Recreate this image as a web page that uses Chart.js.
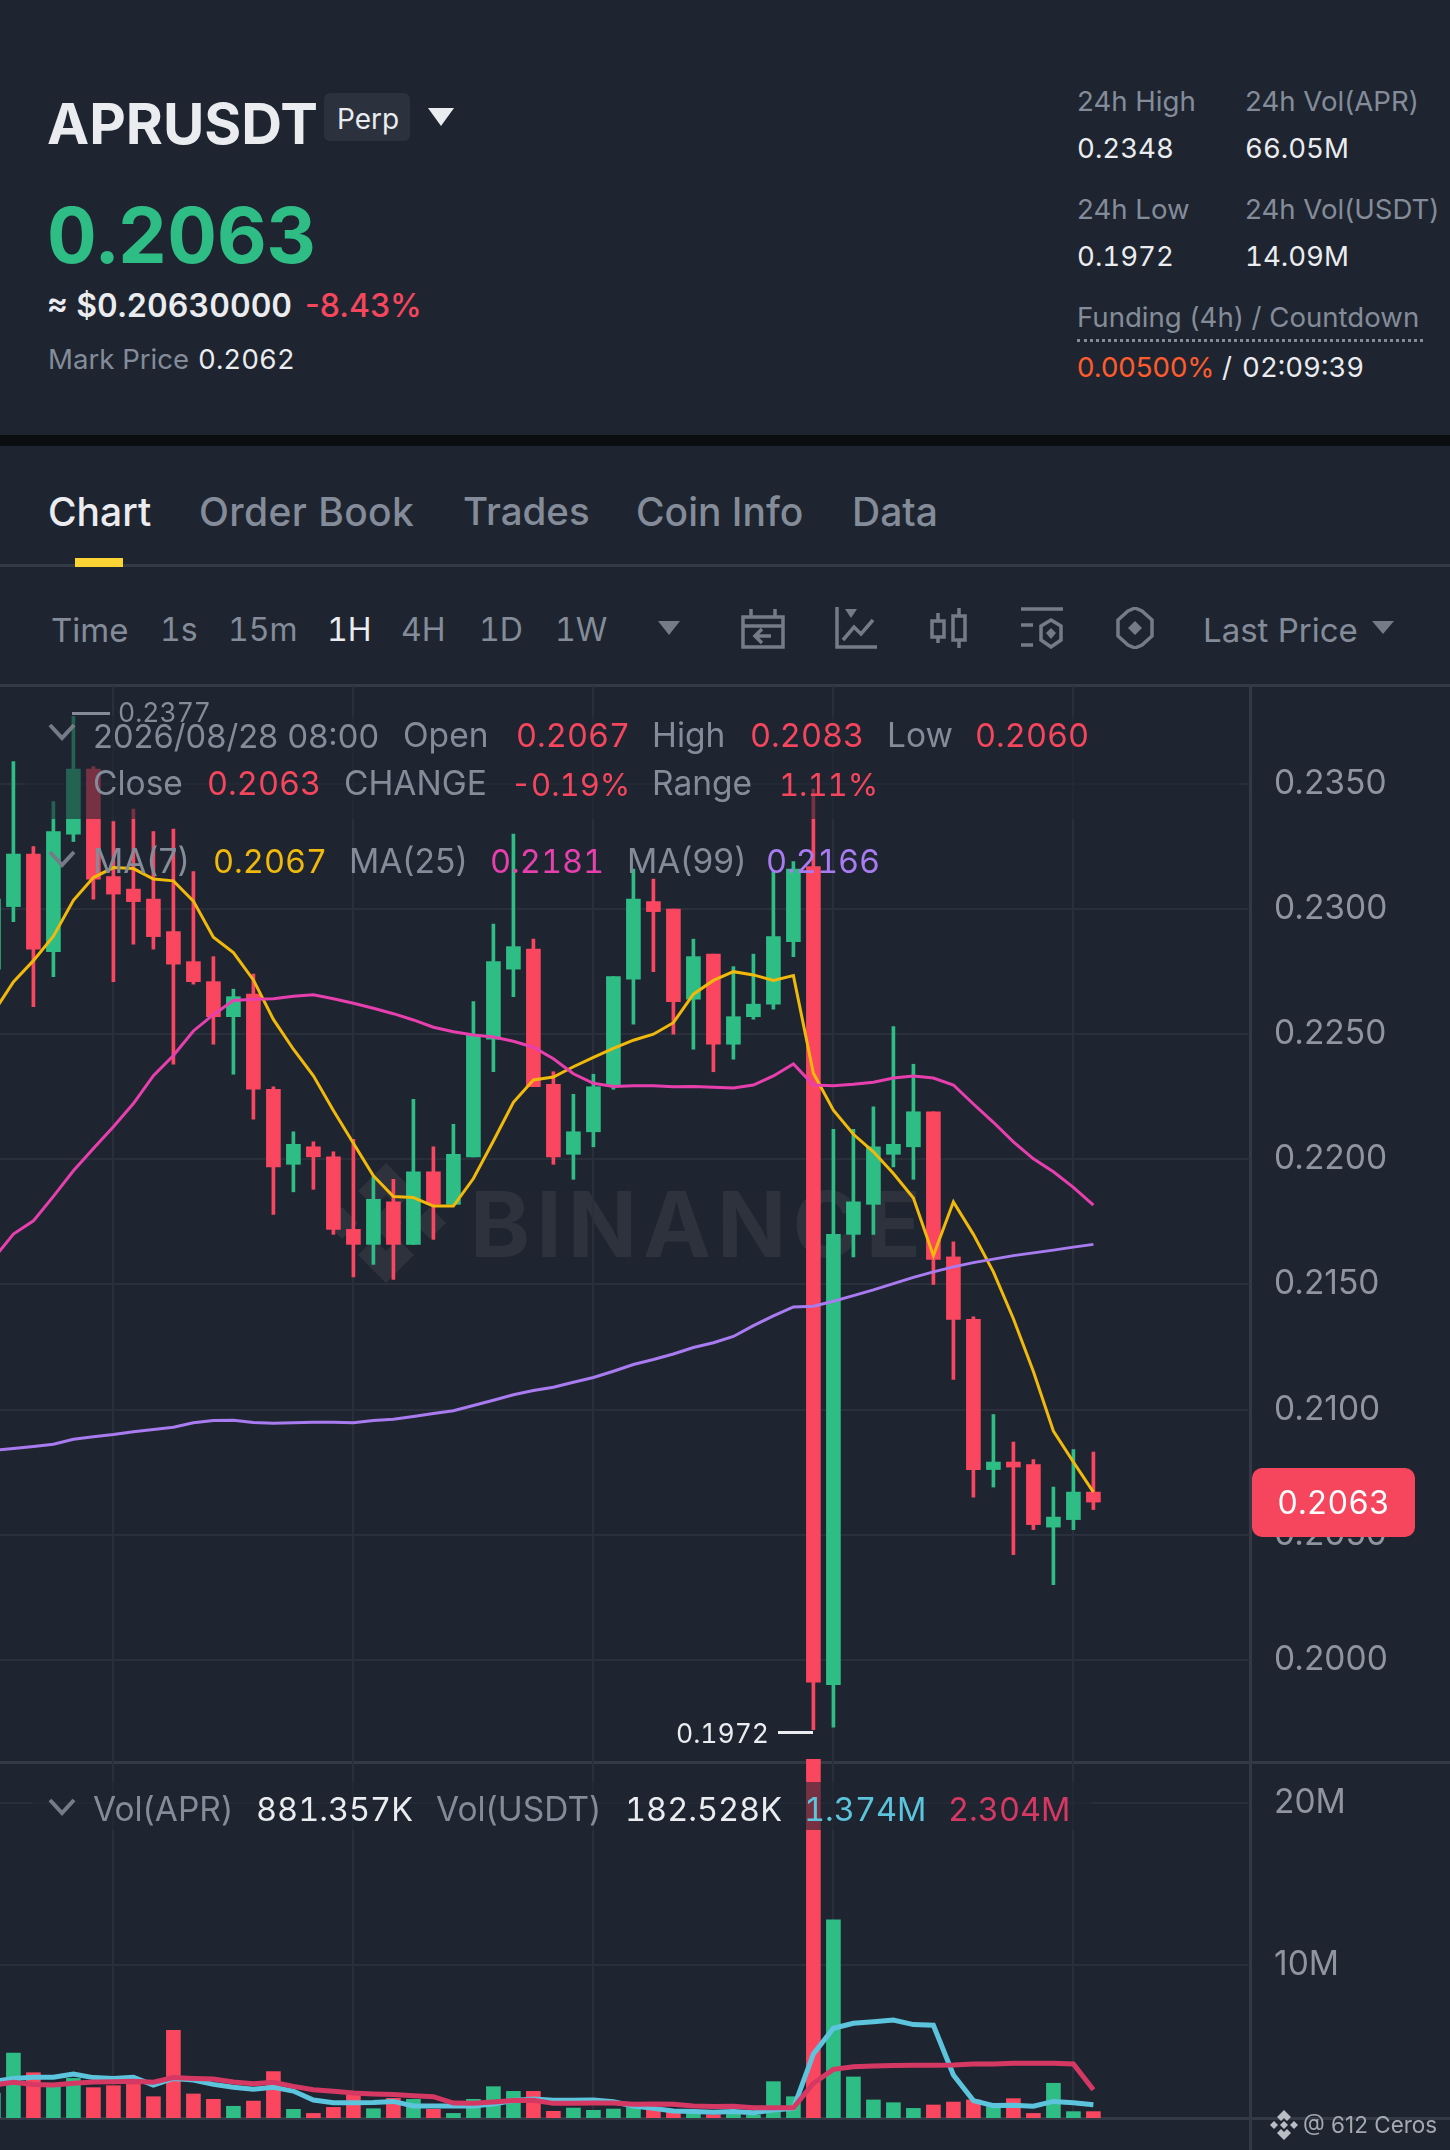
<!DOCTYPE html>
<html>
<head>
<meta charset="utf-8">
<script src="https://cdn.jsdelivr.net/npm/chart.js@4/dist/chart.umd.min.js"></script>
<style>
    html, body { margin: 0; padding: 0; background: #1e2530; }
    #page { position: relative; width: 1450px; height: 2150px; overflow: hidden; background: #1e2530; font-family: Inter, sans-serif; color: #848c99; }
    #page > * { position: absolute; }
    .t { white-space: nowrap; line-height: 1; transform: translateY(-50%); }
    .n { font-variant-numeric: tabular-nums; }
    .s { font-size: 27.6px; }
    .tab { font-size: 39px; font-weight: 500; }
    .tb { font-size: 33px; }
    .tn { font-size: 32px; font-variant-numeric: tabular-nums; }
    .lg { font-size: 33.5px; color: #848c99; }
    .v { font-size: 32.5px; font-variant-numeric: tabular-nums; }
    .w { color: #eaecef; }
    .r { color: #f6465d; }
    .g { color: #2ebd85; }
    .rule { background: #333a46; }
    canvas { display: block; }
    svg { fill: none; stroke: #757c88; stroke-width: 3.5; }
</style>
</head>
<body>
<div id="page">
    <!-- header -->
    <div class="t w" style="left:47px;top:124px;font-size:56.5px;font-weight:700">APRUSDT</div>
    <div style="left:324px;top:93px;width:86px;height:48px;border-radius:6px;background:#2b323e"></div>
    <div class="t w" style="left:337px;top:119px;font-size:28px">Perp</div>
    <svg style="left:428px;top:108px;stroke:none;fill:#eaecef" width="26" height="18"><path d="M0 0H26L13 18Z"/></svg>
    <div class="t g n" style="left:47px;top:235px;font-size:77px;font-weight:700">0.2063</div>
    <div class="t w n" style="left:47px;top:306px;font-size:32px;font-weight:600">≈ $0.20630000</div>
    <div class="t r" style="left:305px;top:306px;font-size:32px;font-weight:500">-8.43%</div>
    <div class="t s" style="left:48px;top:360px">Mark Price</div>
    <div class="t s w n" style="left:198px;top:360px">0.2062</div>
    <div class="t s" style="left:1077px;top:102px">24h High</div>
    <div class="t s" style="left:1245px;top:102px">24h Vol(APR)</div>
    <div class="t s w n" style="left:1077px;top:149px">0.2348</div>
    <div class="t s w n" style="left:1245px;top:149px">66.05M</div>
    <div class="t s" style="left:1077px;top:210px">24h Low</div>
    <div class="t s" style="left:1245px;top:210px">24h Vol(USDT)</div>
    <div class="t s w n" style="left:1077px;top:257px">0.1972</div>
    <div class="t s w n" style="left:1245px;top:257px">14.09M</div>
    <div class="t s" style="left:1077px;top:318px">Funding (4h) / Countdown</div>
    <div style="left:1077px;top:339px;width:346px;border-top:3px dotted #848c99"></div>
    <div class="t" style="left:1077px;top:368px;font-size:27.6px;color:#ff5c2e">0.00500%</div>
    <div class="t s w" style="left:1222px;top:368px">/</div>
    <div class="t s w n" style="left:1242px;top:368px">02:09:39</div>
    <div style="left:0;top:435px;width:1450px;height:11px;background:#0b0e11"></div>

    <!-- tabs -->
    <div class="t tab w" style="left:48px;top:511px">Chart</div>
    <div class="t tab" style="left:199px;top:511px;letter-spacing:.4px">Order Book</div>
    <div class="t tab" style="left:463px;top:511px;font-size:38.5px">Trades</div>
    <div class="t tab" style="left:636px;top:511px">Coin Info</div>
    <div class="t tab" style="left:852px;top:511px">Data</div>
    <div class="rule" style="left:0;top:564px;width:1450px;height:3px"></div>
    <div style="left:75px;top:558px;width:48px;height:9px;background:#fcd535"></div>

    <!-- toolbar -->
    <div class="t tb" style="left:51px;top:630px">Time</div>
    <div class="t tn" style="left:160px;top:630px">1s</div>
    <div class="t tn" style="left:228px;top:630px">15m</div>
    <div class="t tn w" style="left:327px;top:630px">1H</div>
    <div class="t tn" style="left:401px;top:630px">4H</div>
    <div class="t tn" style="left:479px;top:630px">1D</div>
    <div class="t tn" style="left:555px;top:630px">1W</div>
    <svg style="left:658px;top:621px;stroke:none;fill:#757c88" width="22" height="14"><path d="M0 0H22L11 14Z"/></svg>
    <svg style="left:741px;top:607px" width="44" height="42"><path d="M2 10H42V40H2ZM2 19H42M10 2V10M34 2V10M30 29H14M21 22L14 29L21 36"/></svg>
    <svg style="left:835px;top:607px" width="42" height="42"><path d="M2 0V40H42M8 33L19 20L26 27L38 13"/><path d="M10 2H22L16 11Z" style="fill:#757c88;stroke:none"/></svg>
    <svg style="left:930px;top:607px" width="37" height="42"><path d="M2 14H14V30H2ZM8 6V14M8 30V36M23 9H35V33H23ZM29 1V9M29 33V41"/></svg>
    <svg style="left:1021px;top:607px" width="42" height="42"><path d="M0 2H42M0 18H12M0 38H12M30 13L40 19V33L30 40L20 33V19Z"/><path d="M30 21L35 26L30 32L25 26Z" style="fill:#757c88;stroke:none"/></svg>
    <svg style="left:1116px;top:607px" width="38" height="42"><path d="M12 4L19 1L26 4L36 13V29L26 38L19 41L12 38L2 29V13Z"/><path d="M19 14L26 21L19 28L12 21Z" style="fill:#757c88;stroke:none"/></svg>
    <div class="t tb" style="left:1203px;top:630px">Last Price</div>
    <svg style="left:1372px;top:621px;stroke:none;fill:#757c88" width="22" height="13"><path d="M0 0H22L11 13Z"/></svg>

    <!-- pane rules and watermark, below the charts -->
    <div class="rule" style="left:0;top:684px;width:1450px;height:3px"></div>
    <div class="rule" style="left:0;top:1761px;width:1450px;height:3px"></div>
    <div class="rule" style="left:0;top:2117px;width:1450px;height:3px"></div>
    <div class="rule" style="left:1249px;top:686px;width:3px;height:1464px"></div>
    <svg style="left:326px;top:1163px;stroke:none;fill:#2d323c" width="120" height="120"><path d="M60 0L88 28L72 44L60 32L48 44L32 28ZM16 44L32 60L16 76L0 60ZM60 44L76 60L60 76L44 60ZM104 44L120 60L104 76L88 60ZM48 76L60 88L72 76L88 92L60 120L32 92Z"/></svg>
    <div class="t" style="left:470px;top:1224px;font-size:91px;font-weight:700;color:#2d323c;letter-spacing:6px">BINANCE</div>

    <!-- charts -->
    <canvas id="priceChart" width="1450" height="1076" style="left:0;top:686px"></canvas>
    <canvas id="volChart" width="1450" height="363" style="left:0;top:1755px"></canvas>

    <!-- legends sit on a see-through strip over the candles -->
    <div style="left:24px;top:716px;width:1216px;height:103px;background:rgba(30,37,48,.6)"></div>
    <div style="left:32px;top:1782px;width:1060px;height:48px;background:rgba(30,37,48,.6)"></div>

    <div style="left:72px;top:712px;width:38px;height:3px;background:#848c99"></div>
    <div class="t n" style="left:118px;top:712px;font-size:26.5px">0.2377</div>
    <div class="t w n" style="left:676px;top:1733px;font-size:26.5px">0.1972</div>
    <div style="left:778px;top:1731px;width:35px;height:3px;background:#eaecef"></div>

    <svg style="left:48px;top:722px;stroke-width:4" width="30" height="20"><path d="M2 3L14 16L26 3"/></svg>
    <div class="t lg" style="left:93px;top:736px;font-size:32.7px">2026/08/28 08:00</div>
    <div class="t lg" style="left:403px;top:736px">Open</div>
    <div class="t v r" style="left:516px;top:736px">0.2067</div>
    <div class="t lg" style="left:652px;top:736px">High</div>
    <div class="t v r" style="left:750px;top:736px">0.2083</div>
    <div class="t lg" style="left:887px;top:736px">Low</div>
    <div class="t v r" style="left:975px;top:736px">0.2060</div>
    <div class="t lg" style="left:93px;top:784px">Close</div>
    <div class="t v r" style="left:207px;top:784px">0.2063</div>
    <div class="t lg" style="left:344px;top:784px">CHANGE</div>
    <div class="t v r" style="left:511px;top:784px;font-size:31px">-0.19%</div>
    <div class="t lg" style="left:652px;top:784px">Range</div>
    <div class="t v r" style="left:779px;top:784px;font-size:31px">1.11%</div>
    <svg style="left:48px;top:849px;stroke-width:4" width="30" height="20"><path d="M2 3L14 16L26 3"/></svg>
    <div class="t lg" style="left:93px;top:862px">MA(7)</div>
    <div class="t v" style="left:213px;top:862px;color:#f0b90b">0.2067</div>
    <div class="t lg" style="left:349px;top:862px">MA(25)</div>
    <div class="t v" style="left:490px;top:862px;color:#e83fae">0.2181</div>
    <div class="t lg" style="left:627px;top:862px">MA(99)</div>
    <div class="t v" style="left:766px;top:862px;color:#a97bf0">0.2166</div>

    <svg style="left:48px;top:1797px;stroke-width:4" width="30" height="20"><path d="M2 3L14 16L26 3"/></svg>
    <div class="t lg" style="left:93px;top:1810px">Vol(APR)</div>
    <div class="t v w" style="left:256px;top:1810px">881.357K</div>
    <div class="t lg" style="left:436px;top:1810px">Vol(USDT)</div>
    <div class="t v w" style="left:625px;top:1810px">182.528K</div>
    <div class="t v" style="left:804px;top:1810px;color:#5cc4dc">1.374M</div>
    <div class="t v" style="left:948px;top:1810px;color:#d63864">2.304M</div>

    <!-- last price tag -->
    <div style="left:1252px;top:1468px;width:163px;height:69px;border-radius:10px;background:#f6465d"></div>
    <div class="t n" style="left:1252px;top:1503px;width:163px;text-align:center;font-size:32px;color:#fff">0.2063</div>

    <!-- footer -->
    <svg style="left:1270px;top:2110px;stroke:none;fill:#b9bdc4" width="28" height="30"><path d="M14 0L21 7L17 11L14 8L11 11L7 7ZM4 11L8 15L4 19L0 15ZM14 11L18 15L14 19L10 15ZM24 11L28 15L24 19L20 15ZM11 19L14 22L17 19L21 23L14 30L7 23Z"/></svg>
    <div class="t" style="left:1303px;top:2125px;font-size:22.5px;color:#a4a8af">@ 612 Ceros</div>
</div>

<script>
    const opens = [0.2276, 0.2301, 0.2322, 0.2283, 0.2330, 0.2356, 0.2313, 0.2308, 0.2304, 0.2291, 0.2279, 0.2271, 0.2257, 0.2266, 0.2228, 0.2198, 0.2205, 0.2201, 0.2172, 0.2166, 0.2183, 0.2166, 0.2195, 0.2182, 0.2201, 0.2248, 0.2276, 0.2284, 0.2230, 0.2202, 0.2211, 0.2229, 0.2272, 0.2303, 0.2300, 0.2264, 0.2282, 0.2246, 0.2257, 0.2262, 0.2287, 0.2317, 0.1990, 0.2170, 0.2182, 0.2202, 0.2205, 0.2219, 0.2161, 0.2136, 0.2076, 0.2079, 0.2078, 0.2053, 0.2056, 0.2067];
    const highs = [0.2310, 0.2359, 0.2325, 0.2343, 0.2377, 0.2357, 0.2335, 0.2340, 0.2331, 0.2332, 0.2315, 0.2281, 0.2268, 0.2274, 0.2229, 0.2211, 0.2207, 0.2203, 0.2208, 0.2193, 0.2192, 0.2224, 0.2205, 0.2214, 0.2263, 0.2294, 0.2330, 0.2288, 0.2235, 0.2226, 0.2234, 0.2273, 0.2316, 0.2312, 0.2300, 0.2288, 0.2282, 0.2277, 0.2282, 0.2315, 0.2319, 0.2348, 0.2212, 0.2212, 0.2221, 0.2253, 0.2238, 0.2219, 0.2167, 0.2137, 0.2098, 0.2087, 0.2080, 0.2069, 0.2084, 0.2083];
    const lows = [0.2270, 0.2295, 0.2261, 0.2273, 0.2327, 0.2304, 0.2271, 0.2286, 0.2284, 0.2238, 0.2270, 0.2246, 0.2234, 0.2216, 0.2178, 0.2187, 0.2188, 0.2170, 0.2153, 0.2158, 0.2152, 0.2166, 0.2168, 0.2182, 0.2201, 0.2235, 0.2265, 0.2229, 0.2198, 0.2192, 0.2205, 0.2228, 0.2254, 0.2275, 0.2250, 0.2244, 0.2235, 0.2240, 0.2256, 0.2260, 0.2281, 0.1972, 0.1973, 0.2161, 0.2170, 0.2197, 0.2192, 0.2150, 0.2112, 0.2065, 0.2069, 0.2042, 0.2052, 0.2030, 0.2052, 0.2060];
    const closes = [0.2304, 0.2322, 0.2284, 0.2331, 0.2356, 0.2312, 0.2306, 0.2303, 0.2289, 0.2278, 0.2271, 0.2257, 0.2265, 0.2228, 0.2197, 0.2206, 0.2201, 0.2172, 0.2166, 0.2184, 0.2166, 0.2195, 0.2182, 0.2202, 0.2250, 0.2279, 0.2285, 0.2229, 0.2201, 0.2211, 0.2229, 0.2273, 0.2304, 0.2299, 0.2263, 0.2281, 0.2246, 0.2257, 0.2262, 0.2289, 0.2316, 0.1991, 0.2170, 0.2183, 0.2205, 0.2206, 0.2219, 0.2160, 0.2136, 0.2076, 0.2079, 0.2077, 0.2054, 0.2057, 0.2067, 0.2063];

    const ma7 = [0.22586, 0.22709, 0.22794, 0.22892, 0.23035, 0.23126, 0.23166, 0.23162, 0.2312, 0.23113, 0.23032, 0.22888, 0.22826, 0.22717, 0.22559, 0.2244, 0.22334, 0.22195, 0.22064, 0.21934, 0.21851, 0.21847, 0.21813, 0.21813, 0.21923, 0.22073, 0.22228, 0.22317, 0.22329, 0.2237, 0.22407, 0.22443, 0.22476, 0.225, 0.22546, 0.2266, 0.22715, 0.2275, 0.22737, 0.22715, 0.22734, 0.22344, 0.22196, 0.221, 0.2203, 0.21943, 0.21845, 0.21615, 0.2183, 0.217, 0.2155, 0.21363, 0.21152, 0.20914, 0.2079, 0.2067];
    const ma25 = [0.21603, 0.21701, 0.21754, 0.21852, 0.21954, 0.22043, 0.2213, 0.22223, 0.22334, 0.22415, 0.22513, 0.22578, 0.22635, 0.2264, 0.22642, 0.22652, 0.22658, 0.22642, 0.22624, 0.22604, 0.22582, 0.22557, 0.22528, 0.2251, 0.22497, 0.22489, 0.22472, 0.22448, 0.22402, 0.22342, 0.22304, 0.22291, 0.22294, 0.22294, 0.2229, 0.22291, 0.22288, 0.22285, 0.22297, 0.22333, 0.22381, 0.22297, 0.22294, 0.223, 0.22308, 0.22325, 0.22333, 0.22325, 0.22297, 0.22221, 0.22148, 0.2207, 0.22002, 0.2195, 0.21888, 0.21817];
    const ma99 = [0.20837, 0.20844, 0.20852, 0.20861, 0.20881, 0.20891, 0.209, 0.20911, 0.2092, 0.20929, 0.20947, 0.20956, 0.20957, 0.20948, 0.20945, 0.20947, 0.20949, 0.20949, 0.20947, 0.20956, 0.20961, 0.20972, 0.20984, 0.20995, 0.21016, 0.21037, 0.21059, 0.21076, 0.21089, 0.21109, 0.21128, 0.21153, 0.2118, 0.212, 0.21222, 0.21248, 0.21267, 0.21292, 0.21335, 0.21374, 0.2141, 0.21413, 0.21433, 0.21455, 0.21478, 0.21503, 0.21528, 0.2155, 0.2157, 0.21587, 0.21601, 0.21615, 0.21626, 0.21637, 0.21649, 0.2166];

    // volumes in millions of APR
    const volumes = [2.08, 4.57, 3.35, 2.7, 3.0, 2.43, 2.55, 2.63, 1.87, 5.97, 2.04, 1.71, 1.28, 1.6, 3.42, 1.09, 0.84, 1.21, 1.98, 1.13, 1.77, 1.71, 1.09, 0.84, 1.71, 2.49, 2.2, 2.2, 0.97, 1.17, 1.03, 1.11, 1.21, 1.09, 0.95, 0.84, 0.76, 0.8, 0.74, 2.8, 1.87, 22.7, 12.78, 3.09, 1.67, 1.5, 1.15, 1.36, 1.54, 1.67, 1.26, 1.75, 0.84, 2.7, 0.95, 0.95];
    const volMaShort = [2.8, 3.0, 3.07, 3.07, 3.27, 3.05, 3.0, 3.07, 2.59, 3.0, 2.9, 2.63, 2.45, 2.33, 2.45, 2.22, 1.67, 1.5, 1.5, 1.52, 1.58, 1.3, 1.3, 1.3, 1.3, 1.42, 1.63, 1.73, 1.65, 1.65, 1.67, 1.56, 1.3, 1.15, 0.99, 0.95, 0.91, 0.95, 0.88, 1.05, 1.15, 4.51, 6.09, 6.4, 6.5, 6.6, 6.32, 6.28, 3.21, 1.63, 1.32, 1.34, 1.28, 1.58, 1.5, 1.37];
    const volMaLong = [2.59, 2.76, 2.63, 2.59, 2.7, 2.78, 2.8, 2.82, 2.76, 3.05, 3.0, 2.96, 2.78, 2.67, 2.76, 2.51, 2.3, 2.2, 2.1, 2.04, 2.0, 1.93, 1.87, 1.48, 1.46, 1.54, 1.63, 1.65, 1.46, 1.46, 1.48, 1.48, 1.4, 1.42, 1.4, 1.3, 1.26, 1.28, 1.19, 1.19, 1.19, 2.7, 3.56, 3.72, 3.77, 3.79, 3.81, 3.81, 3.83, 3.89, 3.89, 3.93, 3.93, 3.93, 3.89, 2.3];

    const xGridTicks = [6, 18, 30, 42, 54];
    const priceTicks = [0.2, 0.205, 0.21, 0.215, 0.22, 0.225, 0.23, 0.235];
    const volTicks = [10, 20];

    const upColor = "#2ebd85";
    const downColor = "#fb4660";
    const gridColor = "#2a303b";
    const axisTextColor = "#8f949e";

    const candleIndex = opens.map((_, i) => i);
    const candleColors = candleIndex.map(i => closes[i] >= opens[i] ? upColor : downColor);
    const pointsOf = values => values.map((y, x) => ({ x, y }));

    function lineSet(values, color, width) {
        return { type: "line", data: pointsOf(values), borderColor: color, borderWidth: width, pointRadius: 0, tension: 0, order: 0 };
    }

    function xAxis() {
        return {
            type: "linear",
            offset: false,
            min: 0.33,
            max: 62.83,
            border: { display: false },
            ticks: { display: false },
            grid: { offset: false, color: gridColor, lineWidth: 2, drawTicks: false },
            afterBuildTicks: axis => { axis.ticks = xGridTicks.map(value => ({ value })); },
            afterFit: axis => { axis.height = 0; }
        };
    }

    function yAxis(min, max, ticks, label) {
        return {
            position: "right",
            min: min,
            max: max,
            border: { display: false },
            grid: { color: gridColor, lineWidth: 2, drawTicks: false },
            ticks: { color: axisTextColor, font: { family: "Inter", size: 33.5 }, padding: 24, callback: label },
            afterBuildTicks: axis => { axis.ticks = ticks.map(value => ({ value })); },
            afterFit: axis => {
                axis.width = 200;
                axis.paddingTop = 0;
                axis.paddingBottom = 0;
            }
        };
    }

    const sharedOptions = {
        responsive: false,
        animation: false,
        devicePixelRatio: 1,
        layout: { padding: 0 },
        plugins: { legend: { display: false }, tooltip: { enabled: false } }
    };

    new Chart("priceChart", {
        type: "bar",
        data: {
            datasets: [
                lineSet(ma99, "#a97bf0", 3),
                lineSet(ma25, "#e83fae", 3),
                lineSet(ma7, "#f0b90b", 3),
                { data: candleIndex.map(i => ({ x: i, y: [opens[i], closes[i]] })), backgroundColor: candleColors, barThickness: 14, grouped: false, order: 1 },
                { data: candleIndex.map(i => ({ x: i, y: [lows[i], highs[i]] })), backgroundColor: candleColors, barThickness: 3, grouped: false, order: 2 }
            ]
        },
        options: {
            ...sharedOptions,
            scales: {
                x: xAxis(),
                y: yAxis(0.195912, 0.238917, priceTicks, value => value.toFixed(4))
            }
        }
    });

    new Chart("volChart", {
        type: "bar",
        data: {
            datasets: [
                lineSet(volMaLong, "#d63864", 5),
                lineSet(volMaShort, "#5cc4dc", 5),
                { data: pointsOf(volumes), backgroundColor: candleColors, barThickness: 14, order: 1 }
            ]
        },
        options: {
            ...sharedOptions,
            scales: {
                x: xAxis(),
                y: yAxis(0.556, 22.96, volTicks, value => value + "M")
            }
        }
    });
</script>
</body>
</html>
